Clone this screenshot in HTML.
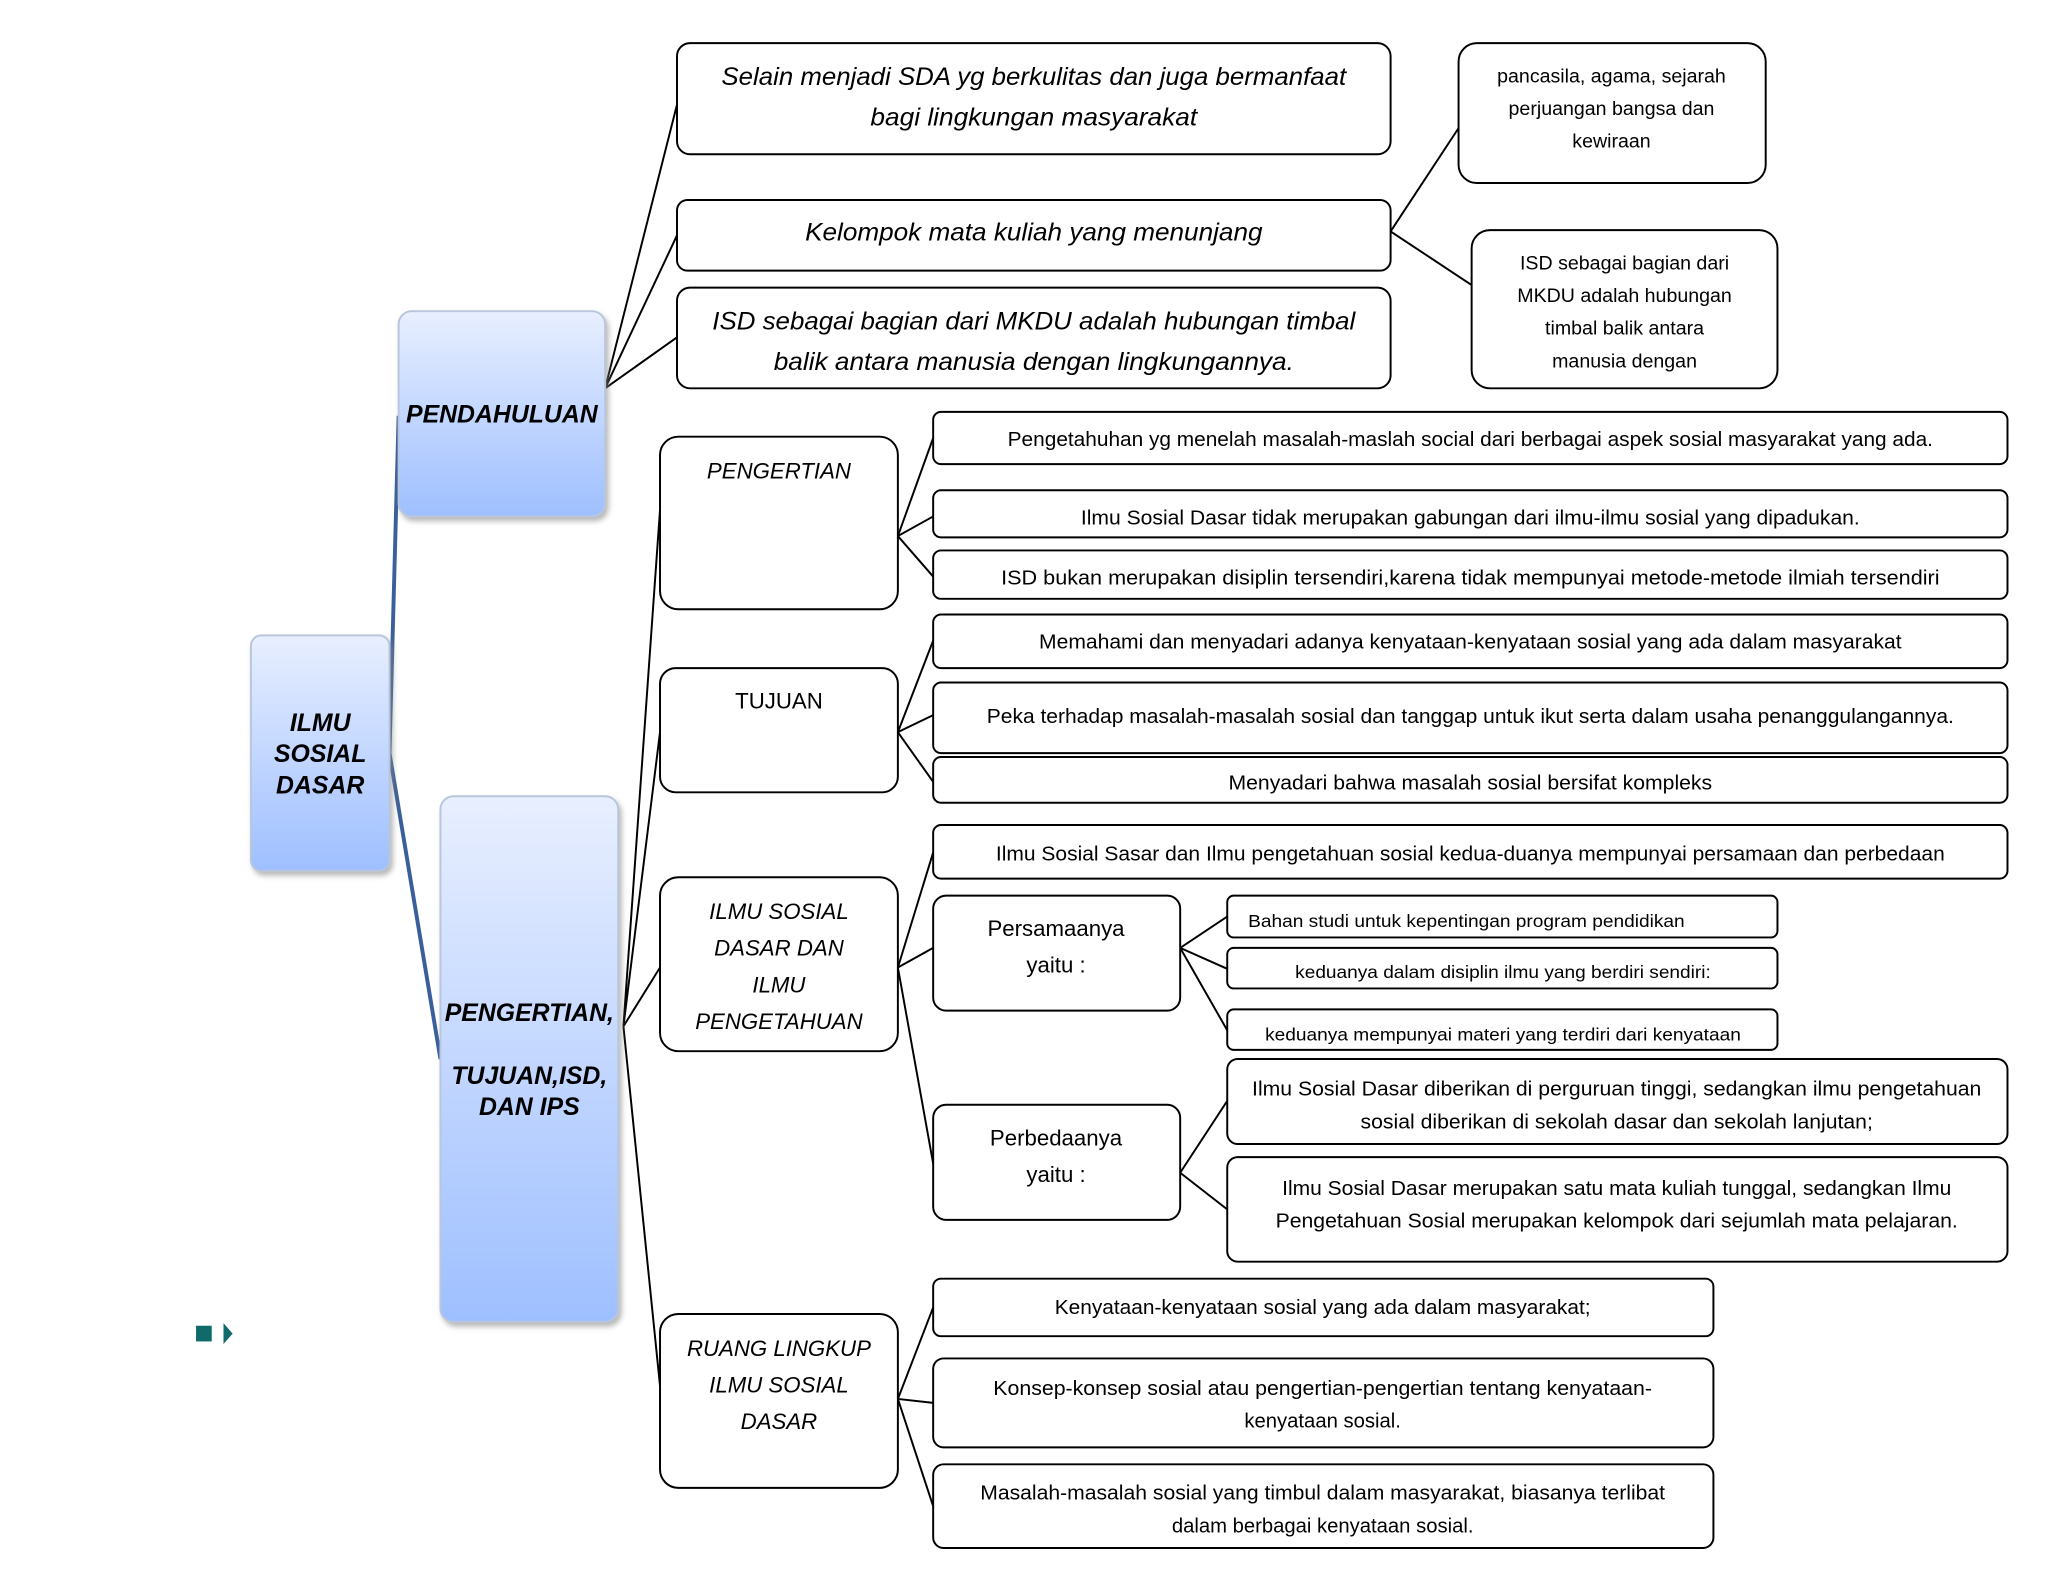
<!DOCTYPE html>
<html><head><meta charset="utf-8"><style>html,body{margin:0;padding:0;background:#fff}svg{display:block}</style></head>
<body>
<svg width="2048" height="1582" viewBox="0 0 1567 1210" preserveAspectRatio="none" xmlns="http://www.w3.org/2000/svg" font-family="Liberation Sans, sans-serif">
<defs>
<linearGradient id="g" x1="0" y1="0" x2="0" y2="1"><stop offset="0" stop-color="#e8efff"/><stop offset="1" stop-color="#9ebfff"/></linearGradient>
<filter id="sh" x="-10%" y="-10%" width="130%" height="130%"><feDropShadow dx="2" dy="3" stdDeviation="2" flood-color="#888" flood-opacity="0.6"/></filter>
</defs>
<g fill="none" stroke="#000" stroke-width="1.5">
<!-- blue connectors -->
<path d="M298,576 L305,318 M298,576 L337,810" stroke="#3b5f9b" stroke-width="3"/>
<!-- pendahuluan -->
<path d="M463,297 L518,80 M463,297 L518,180 M463,297 L518,258"/>
<path d="M1064,177 L1116,98 M1064,177 L1126,218"/>
<!-- pengertian main -->
<path d="M477,785 L505,390 M477,785 L505,560 M477,785 L505,740 M477,785 L505,1060"/>
<path d="M687,410 L714,335 M687,410 L714,395 M687,410 L714,441"/>
<path d="M687,560 L714,490 M687,560 L714,547 M687,560 L714,598"/>
<path d="M687,740 L714,652 M687,740 L714,725 M687,740 L714,890"/>
<path d="M903,725 L939,701 M903,725 L939,741 M903,725 L939,788"/>
<path d="M903,897 L939,842 M903,897 L939,925"/>
<path d="M687,1070 L714,1000 M687,1070 L714,1073 M687,1070 L714,1152"/>
</g>
<!-- blue nodes -->
<g filter="url(#sh)" stroke="#b9c6dc" stroke-width="1.5" fill="url(#g)">
<rect x="192" y="486" width="106" height="180" rx="8"/>
<rect x="305" y="238" width="158" height="157" rx="10"/>
<rect x="337" y="609" width="136" height="402" rx="10"/>
</g>
<g font-weight="bold" font-style="italic" font-size="19" text-anchor="middle" fill="#000">
<text x="245" y="559">ILMU</text><text x="245" y="583">SOSIAL</text><text x="245" y="607">DASAR</text>
<text x="384" y="323">PENDAHULUAN</text>
<text x="405" y="781">PENGERTIAN,</text><text x="405" y="829">TUJUAN,ISD,</text><text x="405" y="853">DAN IPS</text>
</g>
<!-- white boxes -->
<g fill="#fff" stroke="#000" stroke-width="1.5">
<rect x="518" y="33" width="546" height="85" rx="10"/>
<rect x="518" y="153" width="546" height="54" rx="8"/>
<rect x="518" y="220" width="546" height="77" rx="10"/>
<rect x="1116" y="33" width="235" height="107" rx="14"/>
<rect x="1126" y="176" width="234" height="121" rx="14"/>
<rect x="505" y="334" width="182" height="132" rx="14"/>
<rect x="505" y="511" width="182" height="95" rx="12"/>
<rect x="505" y="671" width="182" height="133" rx="14"/>
<rect x="505" y="1005" width="182" height="133" rx="14"/>
<rect x="714" y="315" width="822" height="40" rx="6"/>
<rect x="714" y="375" width="822" height="36" rx="6"/>
<rect x="714" y="421" width="822" height="37" rx="6"/>
<rect x="714" y="470" width="822" height="41" rx="6"/>
<rect x="714" y="522" width="822" height="54" rx="6"/>
<rect x="714" y="579" width="822" height="35" rx="6"/>
<rect x="714" y="631" width="822" height="41" rx="6"/>
<rect x="714" y="685" width="189" height="88" rx="10"/>
<rect x="714" y="845" width="189" height="88" rx="10"/>
<rect x="939" y="685" width="421" height="32" rx="5"/>
<rect x="939" y="725" width="421" height="31" rx="5"/>
<rect x="939" y="772" width="421" height="31" rx="5"/>
<rect x="939" y="810" width="597" height="65" rx="8"/>
<rect x="939" y="885" width="597" height="80" rx="8"/>
<rect x="714" y="978" width="597" height="44" rx="6"/>
<rect x="714" y="1039" width="597" height="68" rx="8"/>
<rect x="714" y="1120" width="597" height="64" rx="8"/>
</g>
<g font-style="italic" font-size="19" text-anchor="middle" fill="#000">
<text x="791" y="65" textLength="478" lengthAdjust="spacingAndGlyphs">Selain menjadi SDA yg berkulitas dan juga bermanfaat</text>
<text x="791" y="96" textLength="250" lengthAdjust="spacingAndGlyphs">bagi lingkungan masyarakat</text>
<text x="791" y="184" textLength="350" lengthAdjust="spacingAndGlyphs">Kelompok mata kuliah yang menunjang</text>
<text x="791" y="252" textLength="492" lengthAdjust="spacingAndGlyphs">ISD sebagai bagian dari MKDU adalah hubungan timbal</text>
<text x="791" y="283" textLength="398" lengthAdjust="spacingAndGlyphs">balik antara manusia dengan lingkungannya.</text>
</g>
<g font-size="15" text-anchor="middle" fill="#000">
<text x="1233" y="63">pancasila, agama, sejarah</text>
<text x="1233" y="88">perjuangan bangsa dan</text>
<text x="1233" y="113">kewiraan</text>
<text x="1243" y="206">ISD sebagai bagian dari</text>
<text x="1243" y="231">MKDU adalah hubungan</text>
<text x="1243" y="256">timbal balik antara</text>
<text x="1243" y="281">manusia dengan</text>
</g>
<g font-style="italic" font-size="17" text-anchor="middle" fill="#000">
<text x="596" y="366">PENGERTIAN</text>
<text x="596" y="703">ILMU SOSIAL</text><text x="596" y="731">DASAR DAN</text><text x="596" y="759">ILMU</text><text x="596" y="787">PENGETAHUAN</text>
<text x="596" y="1037">RUANG LINGKUP</text><text x="596" y="1065">ILMU SOSIAL</text><text x="596" y="1093">DASAR</text>
</g>
<g font-size="17" text-anchor="middle" fill="#000">
<text x="596" y="542">TUJUAN</text>
<text x="808" y="716">Persamaanya</text><text x="808" y="744">yaitu :</text>
<text x="808" y="876">Perbedaanya</text><text x="808" y="904">yaitu :</text>
</g>
<g font-size="15.5" text-anchor="middle" fill="#000">
<text x="1125" y="341" textLength="708" lengthAdjust="spacingAndGlyphs">Pengetahuhan yg menelah masalah-maslah social dari berbagai aspek sosial masyarakat yang ada.</text>
<text x="1125" y="401" textLength="596" lengthAdjust="spacingAndGlyphs">Ilmu Sosial Dasar tidak merupakan gabungan dari ilmu-ilmu sosial yang dipadukan.</text>
<text x="1125" y="447" textLength="718" lengthAdjust="spacingAndGlyphs">ISD bukan merupakan disiplin tersendiri,karena tidak mempunyai metode-metode ilmiah tersendiri</text>
<text x="1125" y="496" textLength="660" lengthAdjust="spacingAndGlyphs">Memahami dan menyadari adanya kenyataan-kenyataan sosial yang ada dalam masyarakat</text>
<text x="1125" y="553" textLength="740" lengthAdjust="spacingAndGlyphs">Peka terhadap masalah-masalah sosial dan tanggap untuk ikut serta dalam usaha penanggulangannya.</text>
<text x="1125" y="604" textLength="370" lengthAdjust="spacingAndGlyphs">Menyadari bahwa masalah sosial bersifat kompleks</text>
<text x="1125" y="658" textLength="726" lengthAdjust="spacingAndGlyphs">Ilmu Sosial Sasar dan Ilmu pengetahuan sosial kedua-duanya mempunyai persamaan dan perbedaan</text>
<text x="1237" y="838" textLength="558" lengthAdjust="spacingAndGlyphs">Ilmu Sosial Dasar diberikan di perguruan tinggi, sedangkan ilmu pengetahuan</text>
<text x="1237" y="863" textLength="392" lengthAdjust="spacingAndGlyphs">sosial diberikan di sekolah dasar dan sekolah lanjutan;</text>
<text x="1237" y="914" textLength="512" lengthAdjust="spacingAndGlyphs">Ilmu Sosial Dasar merupakan satu mata kuliah tunggal, sedangkan Ilmu</text>
<text x="1237" y="939" textLength="522" lengthAdjust="spacingAndGlyphs">Pengetahuan Sosial merupakan kelompok dari sejumlah mata pelajaran.</text>
<text x="1012" y="1005" textLength="410" lengthAdjust="spacingAndGlyphs">Kenyataan-kenyataan sosial yang ada dalam masyarakat;</text>
<text x="1012" y="1067" textLength="504" lengthAdjust="spacingAndGlyphs">Konsep-konsep sosial atau pengertian-pengertian tentang kenyataan-</text>
<text x="1012" y="1092">kenyataan sosial.</text>
<text x="1012" y="1147" textLength="524" lengthAdjust="spacingAndGlyphs">Masalah-masalah sosial yang timbul dalam masyarakat, biasanya terlibat</text>
<text x="1012" y="1172">dalam berbagai kenyataan sosial.</text>
</g>
<g font-size="13.5" fill="#000">
<text x="955" y="709" textLength="334" lengthAdjust="spacingAndGlyphs">Bahan studi untuk kepentingan program pendidikan</text>
<text x="1150" y="748" text-anchor="middle" textLength="318" lengthAdjust="spacingAndGlyphs">keduanya dalam disiplin ilmu yang berdiri sendiri:</text>
<text x="1150" y="796" text-anchor="middle" textLength="364" lengthAdjust="spacingAndGlyphs">keduanya mempunyai materi yang terdiri dari kenyataan</text>
</g>
<rect x="150" y="1014" width="12" height="12" fill="#0f6a6a"/>
<path d="M171,1012 L178,1020 L171,1028 Z" fill="#0f6a6a"/>
</svg>
</body></html>
